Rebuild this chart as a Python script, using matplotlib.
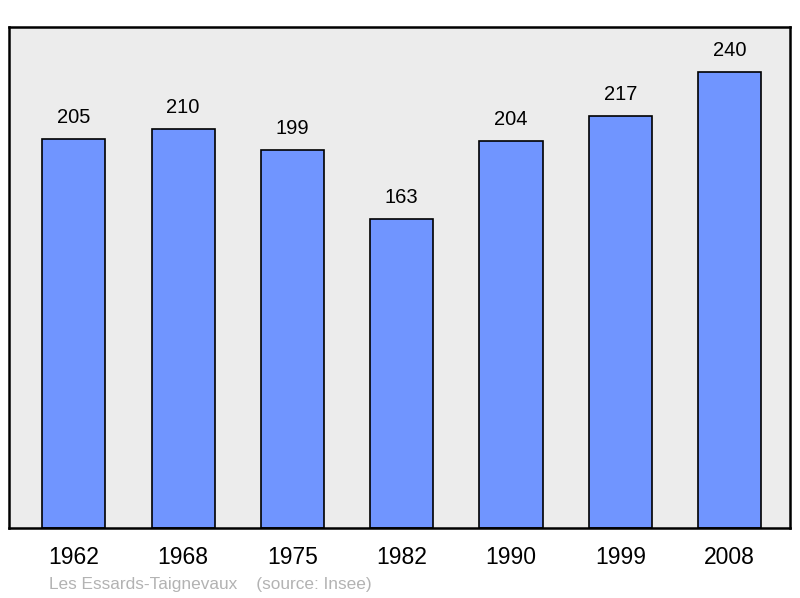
import matplotlib.pyplot as plt

plt.rcParams['font.family'] = ['Liberation Sans', 'DejaVu Sans']

# Data
years = ['1962', '1968', '1975', '1982', '1990', '1999', '2008']
population = [205, 210, 199, 163, 204, 217, 240]

fig = plt.figure(figsize=(8, 5.98), dpi=100)
ax = fig.add_axes([0.01125, 0.117, 0.97625, 0.838])
ax.set_facecolor('#ececec')

x = range(len(years))
ax.bar(x, population, width=0.577, color='#7095ff', edgecolor='black', linewidth=1.2, zorder=2)

for xi, v in zip(x, population):
    ax.annotate(str(v), (xi, v), xytext=(0, 15.5), textcoords='offset points',
                ha='center', va='center', fontsize=14.5)

ax.set_xlim(-0.592, 6.552)
ax.set_ylim(0, 264)
ax.set_yticks([])
ax.set_xticks(list(x))
ax.set_xticklabels(years, fontsize=16.5)
ax.tick_params(axis='x', length=0, pad=13)
for s in ax.spines.values():
    s.set_linewidth(1.8)

fig.text(49 / 800, 1 - 584 / 598, 'Les Essards-Taignevaux    (source: Insee)',
         color='#b3b3b3', fontsize=12.4, va='center', ha='left')

plt.savefig('out.png', dpi=100)
